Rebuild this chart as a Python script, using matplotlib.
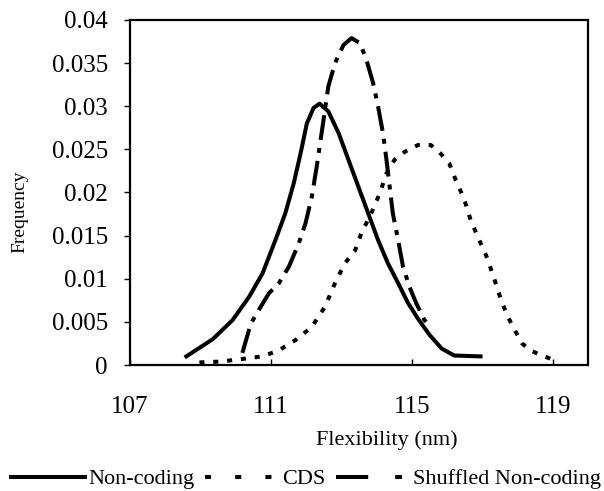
import matplotlib
matplotlib.use("Agg")
import matplotlib.pyplot as plt
from matplotlib.lines import Line2D

plt.rcParams["font.family"] = ["Liberation Serif", "DejaVu Serif"]

# ── Data ─────────────────────────────────────────────────────────────────────

noncoding_x = [108.60, 109.35, 109.91, 110.38, 110.76, 111.13, 111.41, 111.65, 111.84,
               112.02, 112.21, 112.38, 112.63, 112.92, 113.20, 113.48, 113.76, 114.04,
               114.32, 114.61, 114.89, 115.17, 115.50, 115.85, 116.20, 116.95]
noncoding_y = [0.0010, 0.0030, 0.0052, 0.0079, 0.0106, 0.0145, 0.0176, 0.0211, 0.0245,
               0.0280, 0.0298, 0.0303, 0.0294, 0.0269, 0.0238, 0.0207, 0.0176, 0.0145,
               0.0118, 0.0095, 0.0072, 0.0054, 0.0035, 0.0019, 0.0011, 0.0010]

cds_x = [108.97, 109.58, 110.19, 110.76, 111.23, 111.70, 112.16, 112.54, 112.82, 113.10,
         113.39, 113.57, 113.85, 114.09, 114.28, 114.51, 114.79, 115.17, 115.54, 115.82,
         116.06, 116.25, 116.48, 116.67, 116.91, 117.14, 117.33, 117.52, 117.70, 117.94,
         118.13, 118.36, 118.64, 119.02]
cds_y = [0.0003, 0.0004, 0.0007, 0.0010, 0.0017, 0.0029, 0.0044, 0.0068, 0.0095, 0.0118,
         0.0133, 0.0153, 0.0176, 0.0199, 0.0222, 0.0238, 0.0247, 0.0255, 0.0255, 0.0245,
         0.0234, 0.0214, 0.0193, 0.0168, 0.0145, 0.0124, 0.0101, 0.0077, 0.0058, 0.0039,
         0.0025, 0.0017, 0.0012, 0.0006]

shuffled_x = [110.19, 110.43, 110.66, 110.94, 111.23, 111.51, 111.79, 111.98, 112.16,
              112.30, 112.45, 112.63, 112.82, 113.06, 113.29, 113.53, 113.71, 113.90,
              114.04, 114.18, 114.28, 114.37, 114.46, 114.61, 114.75, 114.93, 115.12,
              115.36, 115.45]
shuffled_y = [0.0014, 0.0048, 0.0064, 0.0083, 0.0095, 0.0114, 0.0141, 0.0164, 0.0195,
              0.0230, 0.0272, 0.0323, 0.0350, 0.0371, 0.0379, 0.0373, 0.0354, 0.0327,
              0.0300, 0.0269, 0.0238, 0.0207, 0.0176, 0.0145, 0.0114, 0.0091, 0.0072,
              0.0052, 0.0048]

x_ticks = [107, 111, 115, 119]
y_ticks = [0, 0.005, 0.01, 0.015, 0.02, 0.025, 0.03, 0.035, 0.04]
y_tick_labels = ["0", "0.005", "0.01", "0.015", "0.02", "0.025", "0.03", "0.035", "0.04"]
series_names = ["Non-coding", "CDS", "Shuffled Non-coding"]

# ── Figure ───────────────────────────────────────────────────────────────────

fig = plt.figure(figsize=(6.04, 4.91), dpi=100)
ax = fig.add_axes([0.2152, 0.2566, 0.7583, 0.7027])

lw = 2.9
cds_dash = (1.25, 2.2)
shuf_dash = (6.2, 2.0, 1.25, 2.0)

ax.plot(noncoding_x, noncoding_y, color="black", lw=lw, solid_joinstyle="round")
ax.plot(cds_x, cds_y, color="black", lw=lw, dashes=cds_dash)
ax.plot(shuffled_x, shuffled_y, color="black", lw=lw, dashes=shuf_dash)

ax.set_xlim(107, 120)
ax.set_ylim(0, 0.04)
ax.set_xticks(x_ticks)
ax.set_yticks(y_ticks)
ax.set_yticklabels(y_tick_labels)

ax.tick_params(axis="y", direction="out", length=4, width=1, labelsize=18, pad=12)
ax.tick_params(axis="x", direction="in", length=4, width=1, labelsize=18, pad=22)

for s in ax.spines.values():
    s.set_linewidth(1.6)
    s.set_color("black")

ax.set_xlabel("Flexibility (nm)", fontsize=16)
ax.xaxis.set_label_coords(0.561, -0.19)
ax.set_ylabel("Frequency", fontsize=14)
ax.yaxis.set_label_coords(-0.222, 0.445)

# legend with proxy handles so the dash patterns read like the original
handles = [
    Line2D([], [], color="black", lw=lw),
    Line2D([], [], color="black", lw=lw, dashes=(1.5, 6.0)),
    Line2D([], [], color="black", lw=lw, dashes=(8.0, 6.7, 1.7, 6.7)),
]
fig.legend(handles, series_names, loc="center", bbox_to_anchor=(0.507, 1 - 479 / 491),
           ncol=3, frameon=False, fontsize=16, handlelength=3.3, handletextpad=0.15,
           columnspacing=0.5, borderaxespad=0, borderpad=0)

fig.savefig("out.png", dpi=100, facecolor="white")
